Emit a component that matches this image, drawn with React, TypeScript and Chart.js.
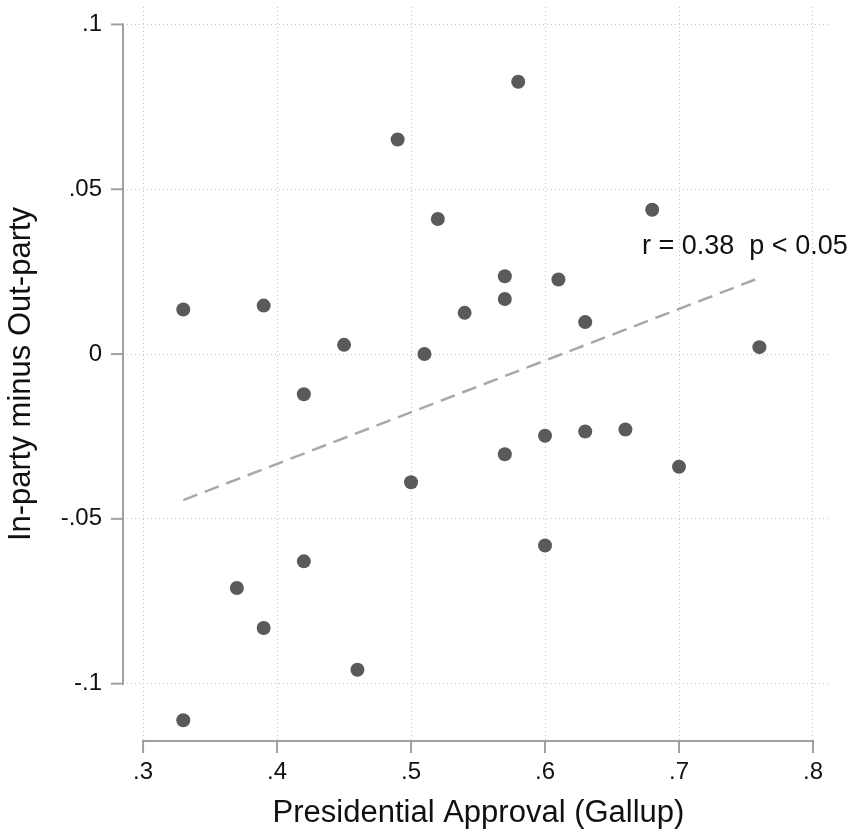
import React, { useEffect, useRef } from 'react';
import { Chart, registerables } from 'chart.js';

Chart.register(...registerables);

// Scatter data: presidential approval vs. in-party minus out-party
const approval = [0.33, 0.39, 0.42, 0.45, 0.51, 0.49, 0.52, 0.54, 0.57, 0.57, 0.58, 0.61, 0.63, 0.68, 0.76, 0.50, 0.57, 0.60, 0.63, 0.66, 0.70, 0.60, 0.37, 0.39, 0.42, 0.46, 0.33];
const difference = [0.0135, 0.0147, -0.0122, 0.0028, 0.0, 0.0651, 0.041, 0.0125, 0.0236, 0.0167, 0.0826, 0.0226, 0.0097, 0.0438, 0.0021, -0.0389, -0.0304, -0.0248, -0.0235, -0.0229, -0.0342, -0.0581, -0.071, -0.0831, -0.0629, -0.0958, -0.1111];

// Fitted regression line end points
const fitX = [0.33, 0.76];
const fitY = [-0.0443, 0.0231];

// Axis ticks
const xTicks = [0.3, 0.4, 0.5, 0.6, 0.7, 0.8];
const xTickLabels = ['.3', '.4', '.5', '.6', '.7', '.8'];
const yTicks = [-0.1, -0.05, 0, 0.05, 0.1];
const yTickLabels = ['-.1', '-.05', '0', '.05', '.1'];

// Annotation
const annotationText = 'r = 0.38  p < 0.05';
const annotationX = 0.6724;
const annotationY = 0.0327;

const xTitle = 'Presidential Approval (Gallup)';
const yTitle = 'In-party minus Out-party';

const FONT = '"Liberation Sans", Arial, Helvetica, sans-serif';

const stataAxes = {
  id: 'stataAxes',
  afterDraw(chart: any) {
    const { ctx, chartArea } = chart;
    const xs = chart.scales.x;
    const ys = chart.scales.y;
    ctx.save();
    ctx.strokeStyle = '#a0a0a0';
    ctx.lineWidth = 2;
    ctx.lineCap = 'butt';
    // y axis line
    const ax = chartArea.left - 4;
    const yTop = ys.getPixelForValue(yTicks[yTicks.length - 1]);
    const yBot = ys.getPixelForValue(yTicks[0]);
    ctx.beginPath();
    ctx.moveTo(ax, yTop - 1);
    ctx.lineTo(ax, yBot + 1);
    ctx.stroke();
    yTicks.forEach((v) => {
      const p = ys.getPixelForValue(v);
      ctx.beginPath();
      ctx.moveTo(ax - 12, p);
      ctx.lineTo(ax + 1, p);
      ctx.stroke();
    });
    // x axis line
    const ay = chartArea.bottom;
    const xL = xs.getPixelForValue(xTicks[0]);
    const xR = xs.getPixelForValue(xTicks[xTicks.length - 1]);
    ctx.beginPath();
    ctx.moveTo(xL - 1, ay);
    ctx.lineTo(xR + 1, ay);
    ctx.stroke();
    xTicks.forEach((v) => {
      const p = xs.getPixelForValue(v);
      ctx.beginPath();
      ctx.moveTo(p, ay - 1);
      ctx.lineTo(p, ay + 12);
      ctx.stroke();
    });

    // annotation
    ctx.fillStyle = '#111';
    ctx.font = `27px ${FONT}`;
    ctx.textAlign = 'left';
    ctx.textBaseline = 'middle';
    ctx.fillText(annotationText, xs.getPixelForValue(annotationX), ys.getPixelForValue(annotationY));

    // axis titles
    ctx.font = `31px ${FONT}`;
    ctx.textAlign = 'center';
    ctx.textBaseline = 'middle';
    ctx.fillText(xTitle, (chartArea.left + chartArea.right) / 2, 813);
    ctx.save();
    ctx.translate(21, (chartArea.top + chartArea.bottom) / 2);
    ctx.rotate(-Math.PI / 2);
    ctx.fillText(yTitle, 0, 0);
    ctx.restore();
    ctx.restore();
  },
};

export default function App() {
  const canvasRef = useRef<HTMLCanvasElement | null>(null);

  useEffect(() => {
    if (!canvasRef.current) return;
    const points = approval.map((x, i) => ({ x, y: difference[i] }));
    const fit = fitX.map((x, i) => ({ x, y: fitY[i] }));
    const chart = new Chart(canvasRef.current, {
      type: 'scatter',
      data: {
        datasets: [
          {
            label: 'Fit',
            type: 'line',
            data: fit,
            borderColor: '#a8a8a8',
            borderWidth: 2.5,
            borderDash: [15, 8],
            pointRadius: 0,
            fill: false,
            order: 2,
          } as any,
          {
            label: 'Observations',
            data: points,
            backgroundColor: '#5a5a5a',
            borderWidth: 0,
            pointRadius: 7,
            pointHoverRadius: 7,
            order: 1,
          },
        ],
      },
      options: {
        responsive: false,
        animation: false,
        devicePixelRatio: 1,
        layout: { padding: { top: 5, right: 20, left: 0, bottom: 0 } },
        plugins: {
          legend: { display: false },
          tooltip: { enabled: false },
        },
        scales: {
          x: {
            type: 'linear',
            min: 0.288,
            max: 0.8127,
            afterBuildTicks: (scale: any) => {
              scale.ticks = xTicks.map((v) => ({ value: v }));
            },
            afterFit: (scale: any) => {
              scale.height = 88;
              scale.paddingLeft = 0;
              scale.paddingRight = 0;
            },
            border: { display: false, dash: [1, 3] },
            grid: {
              drawTicks: false,
              color: '#c4c4c4',
              lineWidth: 1,
            },
            ticks: {
              padding: 17,
              color: '#111',
              font: { family: FONT, size: 24 },
              maxRotation: 0,
              autoSkip: false,
              callback: (_v: any, i: number) => xTickLabels[i],
            },
            title: { display: false },
          },
          y: {
            type: 'linear',
            min: -0.1174,
            max: 0.1053,
            afterBuildTicks: (scale: any) => {
              scale.ticks = yTicks.map((v) => ({ value: v }));
            },
            afterFit: (scale: any) => {
              scale.width = 127;
              scale.paddingTop = 0;
              scale.paddingBottom = 0;
            },
            border: { display: false, dash: [1, 3] },
            grid: {
              drawTicks: false,
              color: '#c4c4c4',
              lineWidth: 1,
            },
            ticks: {
              padding: 25,
              color: '#111',
              font: { family: FONT, size: 24 },
              autoSkip: false,
              callback: (_v: any, i: number) => yTickLabels[i],
            },
            title: { display: false },
          },
        },
      },
      plugins: [stataAxes],
    });
    return () => chart.destroy();
  }, []);

  return (
    <div style={{ position: 'absolute', left: 0, top: 0, width: 850, height: 829, background: '#fff' }}>
      <canvas ref={canvasRef} width={850} height={829} style={{ display: 'block' }} />
    </div>
  );
}
